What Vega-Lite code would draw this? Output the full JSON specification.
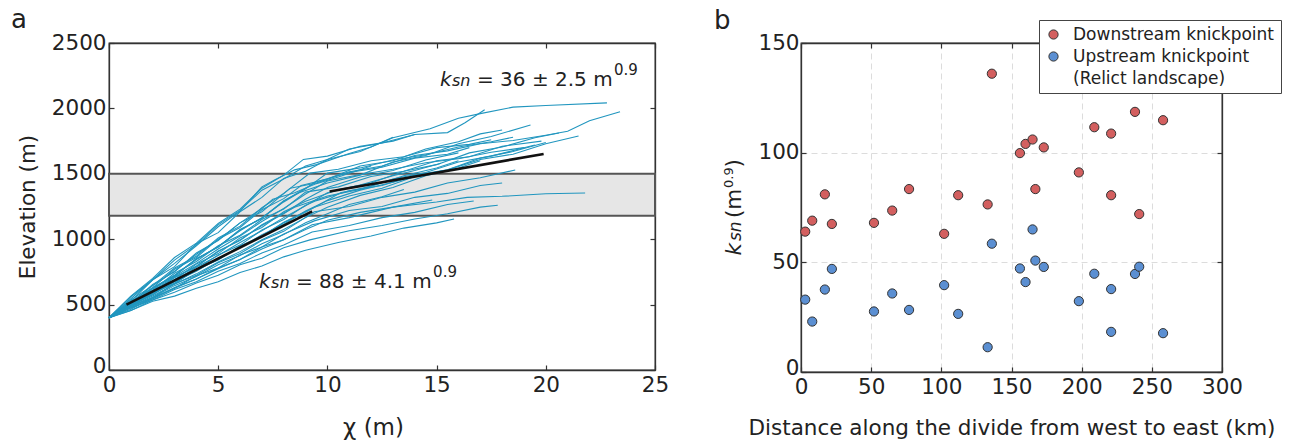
{
  "$schema": "https://vega.github.io/schema/vega-lite/v6.json",
  "padding": {"left": 10, "top": 6, "right": 5, "bottom": 0},
  "spacing": 43,
  "config": {
    "font": "DejaVu Sans",
    "view": {"stroke": "#333", "strokeWidth": 1.3},
    "axis": {"domainColor": "#333", "domainWidth": 1.3, "tickColor": "#333", "tickWidth": 1.2, "tickSize": -5, "labelFont": "DejaVu Sans", "labelFontSize": 21.5, "labelColor": "#222", "titleFont": "DejaVu Sans", "titleFontSize": 21.5, "titleFontWeight": "normal", "titleColor": "#222", "grid": false, "labelPadding": 8, "labelFlush": false, "format": "d"},
    "axisX": {"labelPadding": 9},
    "text": {"font": "DejaVu Sans", "color": "#222"}
  },
  "datasets": {
    "profiles": [
      {"id":1,"chi":0,"z":400},{"id":1,"chi":1,"z":560},{"id":1,"chi":2,"z":690},{"id":1,"chi":3,"z":815},{"id":1,"chi":4,"z":950},{"id":1,"chi":5,"z":1095},{"id":1,"chi":6,"z":1215},{"id":1,"chi":7,"z":1400},{"id":1,"chi":7.6,"z":1455},{"id":1,"chi":8.5,"z":1530},{"id":1,"chi":9.5,"z":1570},{"id":1,"chi":11,"z":1655},{"id":1,"chi":12,"z":1705},{"id":1,"chi":13,"z":1780},
      {"id":2,"chi":0,"z":400},{"id":2,"chi":1,"z":525},{"id":2,"chi":2,"z":690},{"id":2,"chi":3,"z":790},{"id":2,"chi":4,"z":965},{"id":2,"chi":5,"z":1050},{"id":2,"chi":6,"z":1210},{"id":2,"chi":7,"z":1320},{"id":2,"chi":8,"z":1465},{"id":2,"chi":9,"z":1520},{"id":2,"chi":10,"z":1610},{"id":2,"chi":11.5,"z":1670},{"id":2,"chi":13,"z":1775},{"id":2,"chi":14.7,"z":1845},{"id":2,"chi":16,"z":1925},{"id":2,"chi":17,"z":1960},{"id":2,"chi":18.5,"z":2010},{"id":2,"chi":20,"z":2022},{"id":2,"chi":22.8,"z":2042},
      {"id":3,"chi":0,"z":400},{"id":3,"chi":1,"z":505},{"id":3,"chi":2,"z":655},{"id":3,"chi":3,"z":750},{"id":3,"chi":4,"z":895},{"id":3,"chi":5,"z":990},{"id":3,"chi":6,"z":1125},{"id":3,"chi":7,"z":1210},{"id":3,"chi":8.3,"z":1390},{"id":3,"chi":9.5,"z":1430},{"id":3,"chi":11,"z":1515},{"id":3,"chi":12.5,"z":1560},{"id":3,"chi":14,"z":1640},{"id":3,"chi":15.5,"z":1675},{"id":3,"chi":17,"z":1730},{"id":3,"chi":18.5,"z":1755},{"id":3,"chi":20,"z":1795},{"id":3,"chi":21,"z":1825},{"id":3,"chi":22,"z":1905},{"id":3,"chi":23.4,"z":1975},
      {"id":4,"chi":0,"z":400},{"id":4,"chi":1,"z":545},{"id":4,"chi":2,"z":690},{"id":4,"chi":3,"z":840},{"id":4,"chi":4,"z":960},{"id":4,"chi":5,"z":1110},{"id":4,"chi":6,"z":1220},{"id":4,"chi":7,"z":1375},{"id":4,"chi":8,"z":1460},{"id":4,"chi":9,"z":1560},{"id":4,"chi":10,"z":1610},{"id":4,"chi":11,"z":1690},{"id":4,"chi":12.5,"z":1735},{"id":4,"chi":14,"z":1800},{"id":4,"chi":15.5,"z":1815},{"id":4,"chi":16.3,"z":1890},{"id":4,"chi":17.2,"z":1990},
      {"id":5,"chi":0,"z":400},{"id":5,"chi":1,"z":495},{"id":5,"chi":2,"z":620},{"id":5,"chi":3,"z":720},{"id":5,"chi":4,"z":850},{"id":5,"chi":5,"z":940},{"id":5,"chi":6,"z":1075},{"id":5,"chi":7,"z":1160},{"id":5,"chi":8,"z":1295},{"id":5,"chi":8.7,"z":1355},{"id":5,"chi":10,"z":1430},{"id":5,"chi":11.5,"z":1490},{"id":5,"chi":13,"z":1590},{"id":5,"chi":14.5,"z":1640},{"id":5,"chi":16,"z":1730},{"id":5,"chi":17.5,"z":1785},{"id":5,"chi":19.3,"z":1873},
      {"id":6,"chi":0,"z":400},{"id":6,"chi":1,"z":525},{"id":6,"chi":2,"z":630},{"id":6,"chi":3,"z":770},{"id":6,"chi":4,"z":860},{"id":6,"chi":5,"z":1000},{"id":6,"chi":6,"z":1090},{"id":6,"chi":7,"z":1225},{"id":6,"chi":8,"z":1310},{"id":6,"chi":8.8,"z":1410},{"id":6,"chi":10,"z":1460},{"id":6,"chi":11.5,"z":1560},{"id":6,"chi":13,"z":1600},{"id":6,"chi":14.5,"z":1690},{"id":6,"chi":16,"z":1745},{"id":6,"chi":17,"z":1805},{"id":6,"chi":18,"z":1835},
      {"id":7,"chi":0,"z":400},{"id":7,"chi":1,"z":485},{"id":7,"chi":2,"z":600},{"id":7,"chi":3,"z":690},{"id":7,"chi":4,"z":810},{"id":7,"chi":5,"z":890},{"id":7,"chi":6,"z":1010},{"id":7,"chi":7,"z":1090},{"id":7,"chi":8,"z":1210},{"id":7,"chi":9,"z":1290},{"id":7,"chi":10.5,"z":1380},{"id":7,"chi":12,"z":1430},{"id":7,"chi":13.5,"z":1520},{"id":7,"chi":15,"z":1570},{"id":7,"chi":16.5,"z":1660},{"id":7,"chi":18,"z":1705},{"id":7,"chi":19.5,"z":1775},{"id":7,"chi":20.6,"z":1812},
      {"id":8,"chi":0,"z":400},{"id":8,"chi":1,"z":495},{"id":8,"chi":2,"z":575},{"id":8,"chi":3,"z":690},{"id":8,"chi":4,"z":770},{"id":8,"chi":5,"z":880},{"id":8,"chi":6,"z":955},{"id":8,"chi":7,"z":1070},{"id":8,"chi":8,"z":1150},{"id":8,"chi":9,"z":1260},{"id":8,"chi":9.5,"z":1295},{"id":8,"chi":11,"z":1370},{"id":8,"chi":12.5,"z":1410},{"id":8,"chi":14,"z":1490},{"id":8,"chi":15.5,"z":1530},{"id":8,"chi":17,"z":1610},{"id":8,"chi":18.5,"z":1650},{"id":8,"chi":20,"z":1730},{"id":8,"chi":21.5,"z":1789},
      {"id":9,"chi":0,"z":400},{"id":9,"chi":1,"z":515},{"id":9,"chi":2,"z":610},{"id":9,"chi":3,"z":740},{"id":9,"chi":4,"z":830},{"id":9,"chi":5,"z":950},{"id":9,"chi":6,"z":1030},{"id":9,"chi":7,"z":1150},{"id":9,"chi":8,"z":1230},{"id":9,"chi":9,"z":1360},{"id":9,"chi":10.5,"z":1400},{"id":9,"chi":12,"z":1480},{"id":9,"chi":13.5,"z":1520},{"id":9,"chi":15,"z":1600},{"id":9,"chi":16.5,"z":1630},{"id":9,"chi":18,"z":1710},{"id":9,"chi":19.8,"z":1750},
      {"id":10,"chi":0,"z":400},{"id":10,"chi":1,"z":505},{"id":10,"chi":2,"z":590},{"id":10,"chi":3,"z":710},{"id":10,"chi":4,"z":790},{"id":10,"chi":5,"z":910},{"id":10,"chi":6,"z":990},{"id":10,"chi":7,"z":1110},{"id":10,"chi":8.5,"z":1245},{"id":10,"chi":10,"z":1330},{"id":10,"chi":11.5,"z":1380},{"id":10,"chi":13,"z":1460},{"id":10,"chi":14.5,"z":1510},{"id":10,"chi":16,"z":1590},{"id":10,"chi":17.5,"z":1635},{"id":10,"chi":19.5,"z":1720},
      {"id":11,"chi":0,"z":400},{"id":11,"chi":1,"z":485},{"id":11,"chi":2,"z":590},{"id":11,"chi":3,"z":660},{"id":11,"chi":4,"z":770},{"id":11,"chi":5,"z":840},{"id":11,"chi":6,"z":950},{"id":11,"chi":7,"z":1020},{"id":11,"chi":8,"z":1130},{"id":11,"chi":9.4,"z":1245},{"id":11,"chi":11,"z":1330},{"id":11,"chi":12.5,"z":1390},{"id":11,"chi":14,"z":1480},{"id":11,"chi":15.5,"z":1530},{"id":11,"chi":17,"z":1620},{"id":11,"chi":18.5,"z":1670},{"id":11,"chi":20,"z":1740},
      {"id":12,"chi":0,"z":400},{"id":12,"chi":1,"z":535},{"id":12,"chi":2,"z":645},{"id":12,"chi":3,"z":780},{"id":12,"chi":4,"z":870},{"id":12,"chi":5,"z":1010},{"id":12,"chi":6,"z":1100},{"id":12,"chi":7,"z":1240},{"id":12,"chi":8,"z":1350},{"id":12,"chi":9.2,"z":1505},{"id":12,"chi":10.5,"z":1535},{"id":12,"chi":12,"z":1600},{"id":12,"chi":13.5,"z":1630},{"id":12,"chi":15,"z":1700},{"id":12,"chi":16.5,"z":1725},{"id":12,"chi":17.5,"z":1760},
      {"id":13,"chi":0,"z":400},{"id":13,"chi":1,"z":565},{"id":13,"chi":2,"z":700},{"id":13,"chi":3,"z":860},{"id":13,"chi":4,"z":970},{"id":13,"chi":5,"z":1120},{"id":13,"chi":6,"z":1230},{"id":13,"chi":7,"z":1390},{"id":13,"chi":8,"z":1490},{"id":13,"chi":8.9,"z":1610},{"id":13,"chi":10,"z":1635},{"id":13,"chi":11.5,"z":1710},{"id":13,"chi":13,"z":1750},{"id":13,"chi":14,"z":1800},
      {"id":14,"chi":0,"z":400},{"id":14,"chi":1,"z":505},{"id":14,"chi":2,"z":630},{"id":14,"chi":3,"z":720},{"id":14,"chi":4,"z":850},{"id":14,"chi":5,"z":940},{"id":14,"chi":6,"z":1070},{"id":14,"chi":7,"z":1160},{"id":14,"chi":8,"z":1290},{"id":14,"chi":9.5,"z":1440},{"id":14,"chi":11,"z":1510},{"id":14,"chi":12.5,"z":1550},{"id":14,"chi":14,"z":1620},{"id":14,"chi":15.5,"z":1650},{"id":14,"chi":16.5,"z":1700},
      {"id":15,"chi":0,"z":400},{"id":15,"chi":1,"z":485},{"id":15,"chi":2,"z":555},{"id":15,"chi":3,"z":660},{"id":15,"chi":4,"z":725},{"id":15,"chi":5,"z":820},{"id":15,"chi":6,"z":890},{"id":15,"chi":7,"z":990},{"id":15,"chi":8,"z":1060},{"id":15,"chi":9.4,"z":1210},{"id":15,"chi":11,"z":1250},{"id":15,"chi":12.5,"z":1320},{"id":15,"chi":14,"z":1360},{"id":15,"chi":15.5,"z":1430},{"id":15,"chi":17,"z":1470},{"id":15,"chi":18.6,"z":1529},
      {"id":16,"chi":0,"z":400},{"id":16,"chi":1,"z":465},{"id":16,"chi":2,"z":555},{"id":16,"chi":3,"z":625},{"id":16,"chi":4,"z":720},{"id":16,"chi":5,"z":780},{"id":16,"chi":6,"z":880},{"id":16,"chi":7,"z":940},{"id":16,"chi":8,"z":1040},{"id":16,"chi":9.4,"z":1140},{"id":16,"chi":11,"z":1220},{"id":16,"chi":12.5,"z":1250},{"id":16,"chi":14,"z":1320},{"id":16,"chi":15.5,"z":1350},{"id":16,"chi":17,"z":1410},{"id":16,"chi":18,"z":1430},
      {"id":17,"chi":0,"z":400},{"id":17,"chi":1,"z":475},{"id":17,"chi":2,"z":545},{"id":17,"chi":3,"z":630},{"id":17,"chi":4,"z":695},{"id":17,"chi":5,"z":780},{"id":17,"chi":6,"z":845},{"id":17,"chi":7,"z":940},{"id":17,"chi":8,"z":995},{"id":17,"chi":9.3,"z":1110},{"id":17,"chi":11,"z":1165},{"id":17,"chi":13,"z":1245},{"id":17,"chi":15,"z":1285},{"id":17,"chi":16.4,"z":1320},{"id":17,"chi":18,"z":1328},{"id":17,"chi":20,"z":1348},{"id":17,"chi":21.8,"z":1353},
      {"id":18,"chi":0,"z":400},{"id":18,"chi":1,"z":455},{"id":18,"chi":2,"z":525},{"id":18,"chi":3,"z":565},{"id":18,"chi":4,"z":625},{"id":18,"chi":5,"z":675},{"id":18,"chi":6,"z":745},{"id":18,"chi":7,"z":795},{"id":18,"chi":8,"z":865},{"id":18,"chi":9,"z":915},{"id":18,"chi":10.5,"z":975},{"id":18,"chi":12,"z":1025},{"id":18,"chi":13.5,"z":1085},{"id":18,"chi":15,"z":1125},{"id":18,"chi":15.8,"z":1154},
      {"id":19,"chi":0,"z":400},{"id":19,"chi":1,"z":475},{"id":19,"chi":2,"z":535},{"id":19,"chi":3,"z":615},{"id":19,"chi":4,"z":675},{"id":19,"chi":5,"z":755},{"id":19,"chi":6,"z":815},{"id":19,"chi":7,"z":895},{"id":19,"chi":8,"z":955},{"id":19,"chi":9.3,"z":1055},{"id":19,"chi":11,"z":1105},{"id":19,"chi":12.5,"z":1165},{"id":19,"chi":14,"z":1205},{"id":19,"chi":15.5,"z":1265},{"id":19,"chi":16.7,"z":1292},
      {"id":20,"chi":0,"z":400},{"id":20,"chi":1,"z":455},{"id":20,"chi":2,"z":535},{"id":20,"chi":3,"z":595},{"id":20,"chi":4,"z":665},{"id":20,"chi":5,"z":725},{"id":20,"chi":6,"z":805},{"id":20,"chi":7,"z":855},{"id":20,"chi":8,"z":935},{"id":20,"chi":9.2,"z":995},{"id":20,"chi":11,"z":1065},{"id":20,"chi":12.5,"z":1105},{"id":20,"chi":14,"z":1155},{"id":20,"chi":15.5,"z":1195},{"id":20,"chi":17,"z":1245},{"id":20,"chi":17.8,"z":1260},
      {"id":21,"chi":0,"z":400},{"id":21,"chi":1,"z":495},{"id":21,"chi":2,"z":575},{"id":21,"chi":3,"z":675},{"id":21,"chi":4,"z":755},{"id":21,"chi":5,"z":855},{"id":21,"chi":6,"z":935},{"id":21,"chi":7,"z":1035},{"id":21,"chi":8,"z":1115},{"id":21,"chi":9,"z":1215},{"id":21,"chi":10,"z":1295},{"id":21,"chi":11.5,"z":1375},{"id":21,"chi":13,"z":1435},{"id":21,"chi":14.5,"z":1500},
      {"id":22,"chi":0,"z":400},{"id":22,"chi":1,"z":505},{"id":22,"chi":2,"z":595},{"id":22,"chi":3,"z":705},{"id":22,"chi":4,"z":795},{"id":22,"chi":5,"z":905},{"id":22,"chi":6,"z":995},{"id":22,"chi":7,"z":1105},{"id":22,"chi":8,"z":1195},{"id":22,"chi":9,"z":1305},{"id":22,"chi":10,"z":1395},{"id":22,"chi":11.5,"z":1475},{"id":22,"chi":13,"z":1525},{"id":22,"chi":14.5,"z":1605},{"id":22,"chi":16,"z":1660},
      {"id":23,"chi":0,"z":400},{"id":23,"chi":1,"z":495},{"id":23,"chi":2,"z":595},{"id":23,"chi":3,"z":685},{"id":23,"chi":4,"z":785},{"id":23,"chi":5,"z":875},{"id":23,"chi":6,"z":975},{"id":23,"chi":7,"z":1065},{"id":23,"chi":8,"z":1165},{"id":23,"chi":9,"z":1255},{"id":23,"chi":10,"z":1355},{"id":23,"chi":11.5,"z":1415},{"id":23,"chi":13,"z":1485},{"id":23,"chi":14,"z":1525},{"id":23,"chi":15.2,"z":1580},
      {"id":24,"chi":0,"z":400},{"id":24,"chi":1,"z":485},{"id":24,"chi":2,"z":565},{"id":24,"chi":3,"z":655},{"id":24,"chi":4,"z":735},{"id":24,"chi":5,"z":825},{"id":24,"chi":6,"z":905},{"id":24,"chi":7,"z":995},{"id":24,"chi":8,"z":1075},{"id":24,"chi":9,"z":1165},{"id":24,"chi":10,"z":1245},{"id":24,"chi":11.5,"z":1335},{"id":24,"chi":13,"z":1395},{"id":24,"chi":14.5,"z":1485},{"id":24,"chi":16,"z":1545},{"id":24,"chi":17,"z":1600},
      {"id":25,"chi":0,"z":400},{"id":25,"chi":1,"z":505},{"id":25,"chi":2,"z":625},{"id":25,"chi":3,"z":725},{"id":25,"chi":4,"z":845},{"id":25,"chi":5,"z":945},{"id":25,"chi":6,"z":1065},{"id":25,"chi":7,"z":1165},{"id":25,"chi":8,"z":1285},{"id":25,"chi":9,"z":1385},{"id":25,"chi":10,"z":1505},{"id":25,"chi":11.5,"z":1545},{"id":25,"chi":13,"z":1605},{"id":25,"chi":14.5,"z":1645},{"id":25,"chi":16,"z":1705},{"id":25,"chi":17.5,"z":1745},{"id":25,"chi":18.5,"z":1780},
      {"id":26,"chi":0,"z":400},{"id":26,"chi":1,"z":485},{"id":26,"chi":2,"z":555},{"id":26,"chi":3,"z":645},{"id":26,"chi":4,"z":715},{"id":26,"chi":5,"z":805},{"id":26,"chi":6,"z":875},{"id":26,"chi":7,"z":965},{"id":26,"chi":8,"z":1035},{"id":26,"chi":9,"z":1125},{"id":26,"chi":10,"z":1195},{"id":26,"chi":11,"z":1265},{"id":26,"chi":12.5,"z":1325},{"id":26,"chi":13.5,"z":1380},
      {"id":27,"chi":0,"z":400},{"id":27,"chi":1,"z":515},{"id":27,"chi":2,"z":645},{"id":27,"chi":3,"z":755},{"id":27,"chi":4,"z":885},{"id":27,"chi":5,"z":995},{"id":27,"chi":6,"z":1125},{"id":27,"chi":7,"z":1235},{"id":27,"chi":7.5,"z":1305},{"id":27,"chi":8.5,"z":1355},{"id":27,"chi":9.5,"z":1425},{"id":27,"chi":10.5,"z":1475},{"id":27,"chi":12,"z":1560},
      {"id":28,"chi":0,"z":400},{"id":28,"chi":1,"z":505},{"id":28,"chi":2,"z":605},{"id":28,"chi":3,"z":715},{"id":28,"chi":4,"z":815},{"id":28,"chi":5,"z":925},{"id":28,"chi":6,"z":1025},{"id":28,"chi":7,"z":1135},{"id":28,"chi":8,"z":1235},{"id":28,"chi":9,"z":1345},{"id":28,"chi":10,"z":1445},{"id":28,"chi":11.5,"z":1495},{"id":28,"chi":13,"z":1535},{"id":28,"chi":14.5,"z":1585},{"id":28,"chi":16,"z":1615},{"id":28,"chi":17.5,"z":1665},{"id":28,"chi":19,"z":1700},
      {"id":29,"chi":0,"z":400},{"id":29,"chi":1,"z":485},{"id":29,"chi":2,"z":585},{"id":29,"chi":3,"z":665},{"id":29,"chi":4,"z":765},{"id":29,"chi":5,"z":845},{"id":29,"chi":6,"z":945},{"id":29,"chi":7,"z":1025},{"id":29,"chi":8,"z":1125},{"id":29,"chi":9,"z":1205},{"id":29,"chi":10.6,"z":1355},{"id":29,"chi":12,"z":1405},{"id":29,"chi":13.5,"z":1485},{"id":29,"chi":15,"z":1545},{"id":29,"chi":16,"z":1600},
      {"id":30,"chi":0,"z":400},{"id":30,"chi":1,"z":475},{"id":30,"chi":2,"z":545},{"id":30,"chi":3,"z":625},{"id":30,"chi":4,"z":695},{"id":30,"chi":5,"z":775},{"id":30,"chi":6,"z":845},{"id":30,"chi":7,"z":925},{"id":30,"chi":8,"z":995},{"id":30,"chi":9,"z":1075},{"id":30,"chi":10,"z":1145},{"id":30,"chi":11.5,"z":1205},{"id":30,"chi":13,"z":1245},{"id":30,"chi":14.8,"z":1300}
    ],
    "fits": [
      {"seg":"lower","chi":0.8,"z":500},{"seg":"lower","chi":9.3,"z":1213},
      {"seg":"upper","chi":10.1,"z":1365},{"seg":"upper","chi":19.9,"z":1652}
    ],
    "knick": [
      {"d":3,"k":64,"type":"Downstream knickpoint"},{"d":8,"k":69,"type":"Downstream knickpoint"},{"d":17,"k":81,"type":"Downstream knickpoint"},{"d":22,"k":67.5,"type":"Downstream knickpoint"},{"d":52,"k":68,"type":"Downstream knickpoint"},{"d":65,"k":73.6,"type":"Downstream knickpoint"},{"d":77,"k":83.4,"type":"Downstream knickpoint"},{"d":102,"k":63,"type":"Downstream knickpoint"},{"d":112,"k":80.6,"type":"Downstream knickpoint"},{"d":133,"k":76.4,"type":"Downstream knickpoint"},{"d":136,"k":136,"type":"Downstream knickpoint"},{"d":156,"k":99.8,"type":"Downstream knickpoint"},{"d":160,"k":104,"type":"Downstream knickpoint"},{"d":165,"k":106,"type":"Downstream knickpoint"},{"d":173,"k":102.4,"type":"Downstream knickpoint"},{"d":167,"k":83.4,"type":"Downstream knickpoint"},{"d":198,"k":91,"type":"Downstream knickpoint"},{"d":209,"k":111.6,"type":"Downstream knickpoint"},{"d":221,"k":108.7,"type":"Downstream knickpoint"},{"d":221,"k":80.6,"type":"Downstream knickpoint"},{"d":238,"k":118.6,"type":"Downstream knickpoint"},{"d":258,"k":114.8,"type":"Downstream knickpoint"},{"d":241,"k":72,"type":"Downstream knickpoint"},
      {"d":3,"k":33,"type":"Upstream knickpoint"},{"d":8,"k":23,"type":"Upstream knickpoint"},{"d":17,"k":37.6,"type":"Upstream knickpoint"},{"d":22,"k":47,"type":"Upstream knickpoint"},{"d":52,"k":27.6,"type":"Upstream knickpoint"},{"d":65,"k":35.8,"type":"Upstream knickpoint"},{"d":77,"k":28.3,"type":"Upstream knickpoint"},{"d":102,"k":39.6,"type":"Upstream knickpoint"},{"d":112,"k":26.5,"type":"Upstream knickpoint"},{"d":133,"k":11.3,"type":"Upstream knickpoint"},{"d":136,"k":58.5,"type":"Upstream knickpoint"},{"d":165,"k":65,"type":"Upstream knickpoint"},{"d":156,"k":47.2,"type":"Upstream knickpoint"},{"d":160,"k":41,"type":"Upstream knickpoint"},{"d":167,"k":50.8,"type":"Upstream knickpoint"},{"d":173,"k":47.9,"type":"Upstream knickpoint"},{"d":209,"k":44.8,"type":"Upstream knickpoint"},{"d":198,"k":32.3,"type":"Upstream knickpoint"},{"d":221,"k":37.8,"type":"Upstream knickpoint"},{"d":221,"k":18.3,"type":"Upstream knickpoint"},{"d":238,"k":44.7,"type":"Upstream knickpoint"},{"d":241,"k":48,"type":"Upstream knickpoint"},{"d":258,"k":17.7,"type":"Upstream knickpoint"}
    ]
  },
  "hconcat": [
    {
      "width": 546,
      "height": 327,
      "data": {"values": [{}]},
      "layer": [
        {
          "data": {"values": [{"x1": 0, "x2": 25, "y1": 1180, "y2": 1500}]},
          "mark": {"type": "rect", "fill": "#e6e6e6", "stroke": "#555", "strokeWidth": 2},
          "encoding": {
            "x": {"field": "x1", "type": "quantitative", "scale": {"domain": [0, 25], "nice": false, "zero": false}, "axis": {"orient": "bottom", "values": [0, 5, 10, 15, 20, 25], "title": "χ (m)", "titlePadding": 21, "titleFontSize": 23, "titleX": 264}},
            "x2": {"field": "x2"},
            "y": {"field": "y1", "type": "quantitative", "scale": {"domain": [0, 2500], "nice": false, "zero": false}, "axis": {"orient": "left", "values": [0, 500, 1000, 1500, 2000, 2500], "title": "Elevation (m)", "titlePadding": 12, "labelOffset": {"condition": {"test": "datum.value === 0", "value": -4}, "value": 0}}},
            "y2": {"field": "y2"}
          }
        },
        {
          "data": {"name": "profiles"},
          "mark": {"type": "line", "color": "#2196bf", "strokeWidth": 1.1},
          "encoding": {
            "x": {"field": "chi", "type": "quantitative", "axis": null},
            "y": {"field": "z", "type": "quantitative", "axis": null},
            "detail": {"field": "id", "type": "nominal"}
          }
        },
        {
          "data": {"name": "fits"},
          "mark": {"type": "line", "color": "#111", "strokeWidth": 2.6},
          "encoding": {
            "x": {"field": "chi", "type": "quantitative", "axis": {"orient": "top", "values": [0, 5, 10, 15, 20, 25], "labels": false, "title": null, "domain": true}},
            "y": {"field": "z", "type": "quantitative", "axis": {"orient": "right", "values": [0, 500, 1000, 1500, 2000, 2500], "labels": false, "title": null, "domain": true}},
            "detail": {"field": "seg", "type": "nominal"}
          }
        },
        {"mark": {"type": "text", "text": "a", "fontSize": 26, "align": "left", "baseline": "alphabetic"}, "encoding": {"x": {"datum": -4.49, "type": "quantitative", "axis": null}, "y": {"datum": 2614, "type": "quantitative", "axis": null}}},
        {"mark": {"type": "text", "text": "k", "fontSize": 20, "fontStyle": "italic", "align": "left", "baseline": "alphabetic"}, "encoding": {"x": {"datum": 15.16, "type": "quantitative", "axis": null}, "y": {"datum": 2171, "type": "quantitative", "axis": null}}},
        {"mark": {"type": "text", "text": "sn", "fontSize": 16, "fontStyle": "italic", "align": "left", "baseline": "alphabetic"}, "encoding": {"x": {"datum": 15.7, "type": "quantitative", "axis": null}, "y": {"datum": 2171, "type": "quantitative", "axis": null}}},
        {"mark": {"type": "text", "text": "= 36 ± 2.5 m", "fontSize": 20, "align": "left", "baseline": "alphabetic"}, "encoding": {"x": {"datum": 16.85, "type": "quantitative", "axis": null}, "y": {"datum": 2171, "type": "quantitative", "axis": null}}},
        {"mark": {"type": "text", "text": "0.9", "fontSize": 15, "align": "left", "baseline": "alphabetic"}, "encoding": {"x": {"datum": 23.12, "type": "quantitative", "axis": null}, "y": {"datum": 2255, "type": "quantitative", "axis": null}}},
        {"mark": {"type": "text", "text": "k", "fontSize": 20, "fontStyle": "italic", "align": "left", "baseline": "alphabetic"}, "encoding": {"x": {"datum": 6.87, "type": "quantitative", "axis": null}, "y": {"datum": 627, "type": "quantitative", "axis": null}}},
        {"mark": {"type": "text", "text": "sn", "fontSize": 16, "fontStyle": "italic", "align": "left", "baseline": "alphabetic"}, "encoding": {"x": {"datum": 7.42, "type": "quantitative", "axis": null}, "y": {"datum": 627, "type": "quantitative", "axis": null}}},
        {"mark": {"type": "text", "text": "= 88 ± 4.1 m", "fontSize": 20, "align": "left", "baseline": "alphabetic"}, "encoding": {"x": {"datum": 8.56, "type": "quantitative", "axis": null}, "y": {"datum": 627, "type": "quantitative", "axis": null}}},
        {"mark": {"type": "text", "text": "0.9", "fontSize": 15, "align": "left", "baseline": "alphabetic"}, "encoding": {"x": {"datum": 14.84, "type": "quantitative", "axis": null}, "y": {"datum": 711, "type": "quantitative", "axis": null}}}
      ]
    },
    {
      "width": 421,
      "height": 329,
      "data": {"values": [{}]},
      "layer": [
        {
          "data": {"name": "knick"},
          "mark": {"type": "point", "shape": "circle", "filled": true, "size": 85, "strokeWidth": 1, "opacity": 1},
          "encoding": {
            "x": {"field": "d", "type": "quantitative", "scale": {"domain": [0, 300], "nice": false, "zero": false}, "axis": {"orient": "bottom", "values": [0, 50, 100, 150, 200, 250, 300], "grid": true, "gridDash": [6, 4], "gridColor": "#dcdcdc", "gridWidth": 1, "title": "Distance along the divide from west to east (km)", "titlePadding": 20}},
            "y": {"field": "k", "type": "quantitative", "scale": {"domain": [0, 150], "nice": false, "zero": false}, "axis": {"orient": "left", "values": [0, 50, 100, 150], "grid": true, "gridDash": [6, 4], "gridColor": "#dcdcdc", "gridWidth": 1, "title": null, "labelPadding": 7, "labelOffset": {"condition": {"test": "datum.value === 0", "value": -4}, "value": 0}}},
            "fill": {"field": "type", "type": "nominal", "scale": {"domain": ["Downstream knickpoint", "Upstream knickpoint", "\u00a0(Relict landscape)"], "range": ["#d35f5f", "#5b8fd2", "rgba(0,0,0,0)"]}, "legend": {"title": null, "orient": "none", "legendX": 930, "legendY": -23, "labelFontSize": 17, "labelColor": "#222", "labelFont": "DejaVu Sans", "labelLimit": 400, "symbolSize": 85, "symbolStrokeWidth": 1, "symbolType": "circle", "padding": 6, "rowPadding": 4, "labelOffset": 11, "strokeColor": "#444", "fillColor": "white"}},
            "stroke": {"field": "type", "type": "nominal", "scale": {"domain": ["Downstream knickpoint", "Upstream knickpoint", "\u00a0(Relict landscape)"], "range": ["#333", "#333", "rgba(0,0,0,0)"]}, "legend": {"title": null, "orient": "none", "legendX": 930, "legendY": -23, "labelFontSize": 17, "labelColor": "#222", "labelFont": "DejaVu Sans", "labelLimit": 400, "symbolSize": 85, "symbolStrokeWidth": 1, "symbolType": "circle", "padding": 6, "rowPadding": 4, "labelOffset": 11, "strokeColor": "#444", "fillColor": "white"}}
          }
        },
        {
          "data": {"name": "knick"},
          "mark": {"type": "point", "opacity": 0},
          "encoding": {
            "x": {"field": "d", "type": "quantitative", "axis": {"orient": "top", "values": [0, 50, 100, 150, 200, 250, 300], "labels": false, "title": null, "domain": true, "grid": false}},
            "y": {"field": "k", "type": "quantitative", "axis": {"orient": "right", "values": [0, 50, 100, 150], "labels": false, "title": null, "domain": true, "grid": false}}
          }
        },
        {"mark": {"type": "text", "text": "b", "fontSize": 26, "align": "left", "baseline": "alphabetic"}, "encoding": {"x": {"datum": -62, "type": "quantitative", "axis": null}, "y": {"datum": 156.4, "type": "quantitative", "axis": null}}},
        {"mark": {"type": "text", "text": "k", "fontSize": 21.5, "fontStyle": "italic", "angle": 270, "align": "left", "baseline": "alphabetic"}, "encoding": {"x": {"datum": -42.7, "type": "quantitative", "axis": null}, "y": {"datum": 53.1, "type": "quantitative", "axis": null}}},
        {"mark": {"type": "text", "text": "sn", "fontSize": 17, "fontStyle": "italic", "angle": 270, "align": "left", "baseline": "alphabetic"}, "encoding": {"x": {"datum": -42.7, "type": "quantitative", "axis": null}, "y": {"datum": 59.7, "type": "quantitative", "axis": null}}},
        {"mark": {"type": "text", "text": "(m", "fontSize": 21.5, "angle": 270, "align": "left", "baseline": "alphabetic"}, "encoding": {"x": {"datum": -42.7, "type": "quantitative", "axis": null}, "y": {"datum": 70.2, "type": "quantitative", "axis": null}}},
        {"mark": {"type": "text", "text": "0.9", "fontSize": 13, "angle": 270, "align": "left", "baseline": "alphabetic"}, "encoding": {"x": {"datum": -48.4, "type": "quantitative", "axis": null}, "y": {"datum": 83.9, "type": "quantitative", "axis": null}}},
        {"mark": {"type": "text", "text": ")", "fontSize": 21.5, "angle": 270, "align": "left", "baseline": "alphabetic"}, "encoding": {"x": {"datum": -42.7, "type": "quantitative", "axis": null}, "y": {"datum": 93.2, "type": "quantitative", "axis": null}}}
      ]
    }
  ]
}
